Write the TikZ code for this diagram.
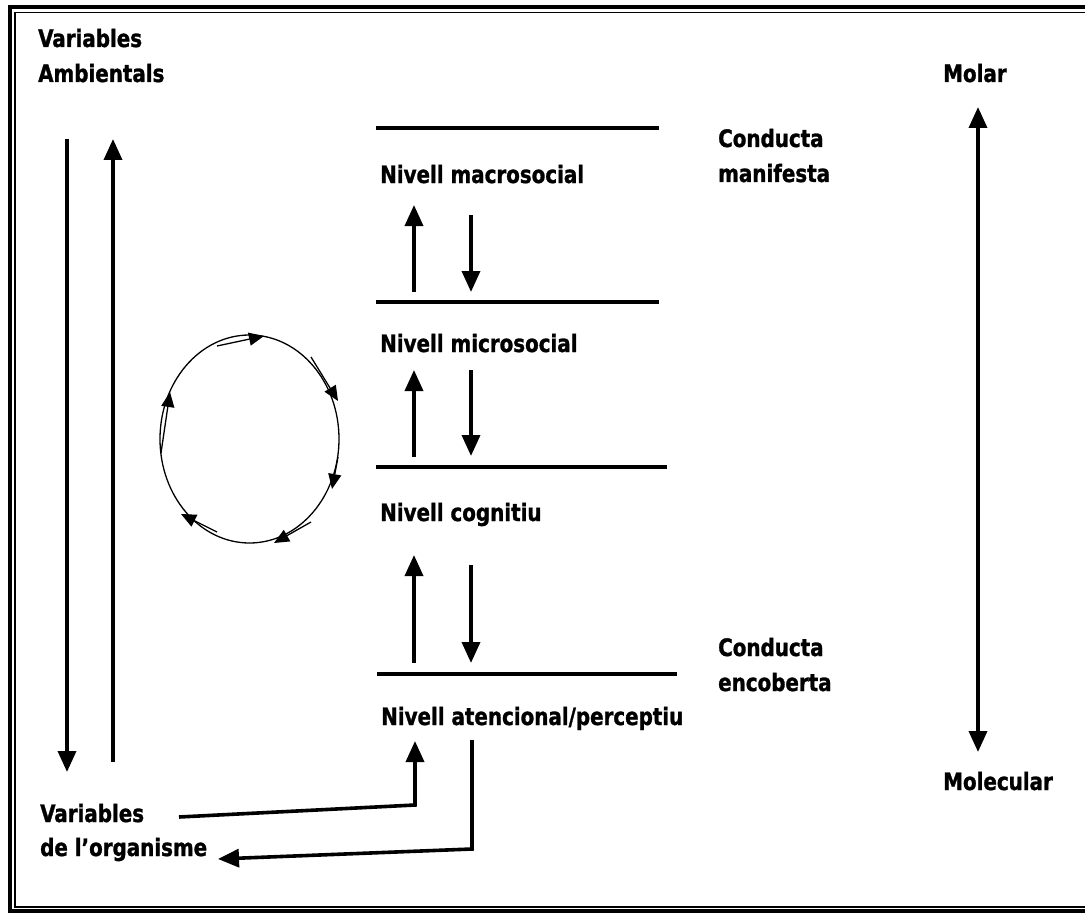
\documentclass[tikz,border=0pt]{standalone}
\usepackage{fontspec}
\setmainfont{DejaVu Sans Condensed}[FakeStretch=0.92, BoldFeatures={FakeBold=1.2}]
\usetikzlibrary{arrows.meta}

\begin{document}
\begin{tikzpicture}[x=1pt,y=-1pt,
  lbl/.style={anchor=base west, inner sep=0pt, font=\bfseries\fontsize{24}{28}\selectfont},
  levelline/.style={line width=4pt},
  flow/.style={line width=3.6pt, -{Triangle[length=21pt,width=18pt]}},
  twoway/.style={line width=3.6pt, {Triangle[length=21pt,width=18pt]}-{Triangle[length=21pt,width=18pt]}},
  cycle/.style={line width=1.3pt},
  cyclearrow/.style={line width=1.3pt, -{Triangle[length=15pt,width=13pt]}}]
\useasboundingbox (0,0) rectangle (1085,915);

% double frame, thick outside and thin inside
\draw[line width=4pt] (10,7) rectangle (1100,911);
\draw[line width=1.5pt] (15,12.5) rectangle (1095,907);

% labels
\node[lbl] (va1) at (38,47) {Variables};
\node[lbl] (va2) at (38,82) {Ambientals};
\node[lbl] (molar) at (943,82) {Molar};
\node[lbl] (cm1) at (718,147) {Conducta};
\node[lbl] (cm2) at (718,182) {manifesta};
\node[lbl] (macro) at (380,183) {Nivell macrosocial};
\node[lbl] (micro) at (380,352) {Nivell microsocial};
\node[lbl] (cogn) at (380,521) {Nivell cognitiu};
\node[lbl] (ce1) at (718,656) {Conducta};
\node[lbl] (ce2) at (718,691) {encoberta};
\node[lbl] (aten) at (381,725) {Nivell atencional/perceptiu};
\node[lbl] (molec) at (943,790) {Molecular};
\node[lbl] (vo1) at (40,822) {Variables};
\node[lbl] (vo2) at (40,856) {de l’organisme};

% level separators
\coordinate (l1a) at (376,128); \coordinate (l1b) at (659,128);
\coordinate (l2a) at (376,302); \coordinate (l2b) at (659,302);
\coordinate (l3a) at (376,467); \coordinate (l3b) at (667,467);
\coordinate (l4a) at (377,674); \coordinate (l4b) at (677,674);
\draw[levelline] (l1a) -- (l1b);
\draw[levelline] (l2a) -- (l2b);
\draw[levelline] (l3a) -- (l3b);
\draw[levelline] (l4a) -- (l4b);

% arrows between levels
\coordinate (u1s) at (414,292); \coordinate (u1e) at (414,205);
\coordinate (d1s) at (471,215); \coordinate (d1e) at (471,292);
\coordinate (u2s) at (414,457); \coordinate (u2e) at (414,370);
\coordinate (d2s) at (471,370); \coordinate (d2e) at (471,456);
\coordinate (u3s) at (414,663); \coordinate (u3e) at (414,555);
\coordinate (d3s) at (471,565); \coordinate (d3e) at (471,663);
\draw[flow] (u1s) -- (u1e);
\draw[flow] (d1s) -- (d1e);
\draw[flow] (u2s) -- (u2e);
\draw[flow] (d2s) -- (d2e);
\draw[flow] (u3s) -- (u3e);
\draw[flow] (d3s) -- (d3e);

% links with the organism variables
\coordinate (o1s) at (179,817); \coordinate (o1m) at (415,805); \coordinate (o1e) at (415,741);
\coordinate (o2s) at (472,740); \coordinate (o2m) at (472,849); \coordinate (o2e) at (218,859);
\draw[flow] (o1s) -- (o1m) -- (o1e);
\draw[flow] (o2s) -- (o2m) -- (o2e);

% environment / organism arrows
\coordinate (ed1) at (67,139); \coordinate (ed2) at (67,772);
\coordinate (eu1) at (113,762); \coordinate (eu2) at (113,139);
\draw[flow] (ed1) -- (ed2);
\draw[flow] (eu1) -- (eu2);

% molar-molecular axis
\coordinate (ax1) at (978,107); \coordinate (ax2) at (978,752);
\draw[twoway] (ax1) -- (ax2);

% feedback cycle
\coordinate (cc) at (249.5,439);
\draw[cycle] (cc) ellipse [x radius=89.5, y radius=104];
\coordinate (c1a) at (217,346); \coordinate (c1b) at (264,336);
\coordinate (c2a) at (311,357); \coordinate (c2b) at (338,401);
\coordinate (c3a) at (338,457); \coordinate (c3b) at (332,489);
\coordinate (c4a) at (311,522); \coordinate (c4b) at (274,543);
\coordinate (c5a) at (217,532); \coordinate (c5b) at (181,514);
\coordinate (c6a) at (161,453); \coordinate (c6b) at (170,392);
\foreach \i in {1,...,6} \draw[cyclearrow] (c\i a) -- (c\i b);
\end{tikzpicture}
\end{document}
